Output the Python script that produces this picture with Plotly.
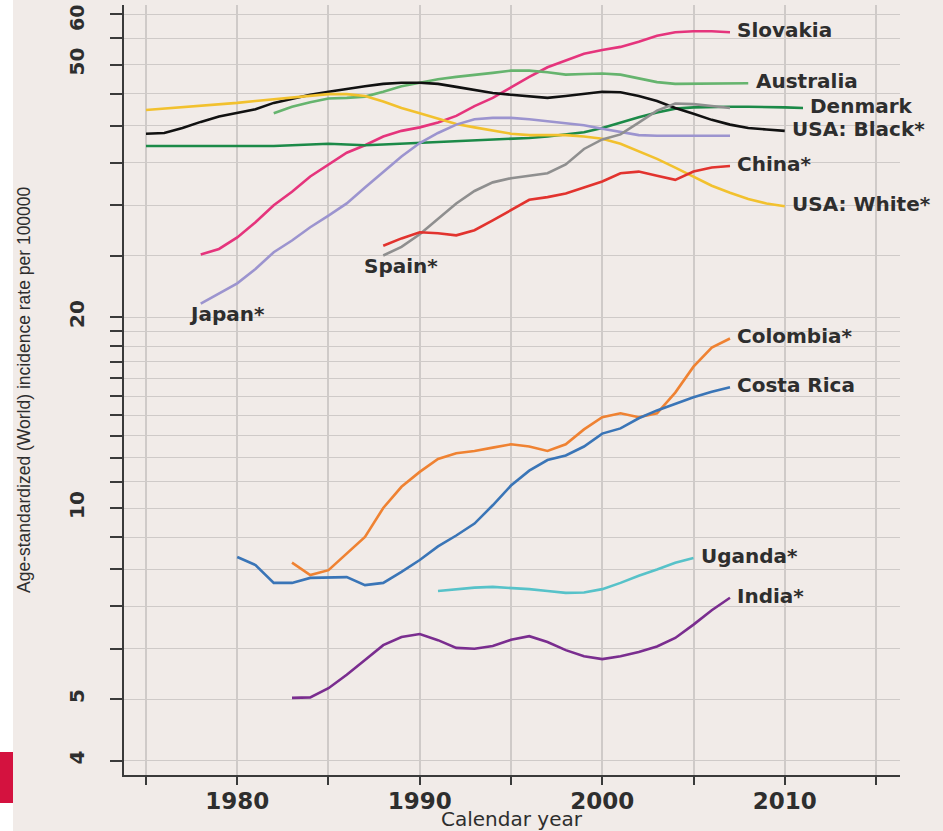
import math
import plotly.graph_objects as go

# ---------------- data ----------------
slovakia_years = list(range(1978, 2008))
slovakia = [25.1, 25.6, 26.7, 28.2, 30.0, 31.5, 33.3, 34.8, 36.3, 37.3, 38.5, 39.3, 39.8,
            40.5, 41.5, 43.0, 44.3, 46.0, 47.8, 49.5, 50.8, 52.0, 52.7, 53.3, 54.3, 55.5,
            56.2, 56.4, 56.4, 56.2]

australia_years = list(range(1982, 2009))
australia = [41.9, 42.9, 43.6, 44.2, 44.3, 44.5, 45.3, 46.2, 46.8, 47.4, 47.8, 48.1, 48.5,
             48.9, 48.9, 48.6, 48.2, 48.3, 48.4, 48.2, 47.6, 46.9, 46.6, 46.6, 46.6, 46.6, 46.7]

denmark_years = list(range(1975, 2012))
denmark = [37.2, 37.2, 37.1, 37.1, 37.1, 37.1, 37.1, 37.2, 37.3, 37.4, 37.5, 37.4, 37.3,
           37.4, 37.5, 37.6, 37.7, 37.8, 37.9, 38.1, 38.2, 38.3, 38.5, 38.8, 39.1, 39.7,
           40.5, 41.3, 42.0, 42.6, 42.8, 42.9, 42.9, 42.9, 42.9, 42.8, 42.7]

usa_black_years = list(range(1975, 2011))
usa_black = [38.9, 39.0, 39.7, 40.6, 41.4, 42.0, 42.5, 43.5, 44.2, 44.8, 45.3, 45.8, 46.2,
             46.6, 46.8, 46.8, 46.6, 46.1, 45.6, 45.1, 44.8, 44.5, 44.3, 44.6, 45.0, 45.3,
             45.2, 44.6, 43.8, 42.7, 41.8, 40.9, 40.2, 39.7, 39.5, 39.3]

usa_white_years = list(range(1975, 2011))
usa_white = [42.4, 42.6, 42.8, 43.0, 43.3, 43.5, 43.8, 44.1, 44.4, 44.7, 44.9, 44.9, 44.6,
             43.7, 42.7, 41.9, 41.1, 40.3, 39.8, 39.3, 38.9, 38.7, 38.7, 38.7, 38.5, 38.2,
             37.5, 36.5, 35.5, 34.4, 33.3, 32.2, 31.4, 30.7, 30.2, 29.9]

japan_years = list(range(1978, 2008))
japan = [21.0, 21.8, 22.6, 23.8, 25.3, 26.4, 27.7, 28.9, 30.2, 32.0, 33.8, 35.8, 37.6, 39.0,
         40.2, 41.0, 41.2, 41.2, 41.0, 40.7, 40.5, 40.1, 39.6, 39.1, 38.7, 38.6, 38.6, 38.6,
         38.6, 38.6]

spain_years = list(range(1988, 2008))
spain = [25.0, 25.8, 27.0, 28.6, 30.2, 31.6, 32.6, 33.1, 33.4, 33.7, 34.8, 36.8, 38.1, 38.8,
         40.5, 42.3, 43.4, 43.3, 43.0, 42.7]

china_years = list(range(1988, 2008))
china = [25.9, 26.6, 27.2, 27.1, 26.9, 27.4, 28.4, 29.5, 30.6, 30.9, 31.3, 32.0, 32.7, 33.7,
         33.9, 33.4, 32.9, 33.9, 34.4, 34.6]

colombia_years = list(range(1983, 2008))
colombia = [8.2, 7.84, 7.98, 8.49, 9.0, 10.0, 10.8, 11.4, 11.95, 12.2, 12.3, 12.45, 12.6,
            12.5, 12.3, 12.6, 13.3, 13.9, 14.1, 13.9, 14.1, 15.2, 16.7, 17.9, 18.5]

costa_rica_years = list(range(1980, 2008))
costa_rica = [8.37, 8.13, 7.62, 7.62, 7.76, 7.78, 7.78, 7.56, 7.62, 7.93, 8.28, 8.7, 9.05,
              9.45, 10.1, 10.85, 11.45, 11.9, 12.1, 12.5, 13.1, 13.35, 13.85, 14.25, 14.6,
              14.95, 15.25, 15.5]

uganda_years = list(range(1991, 2006))
uganda = [7.40, 7.45, 7.49, 7.51, 7.49, 7.45, 7.40, 7.35, 7.36, 7.45, 7.62, 7.82, 8.0, 8.2, 8.34]

india_years = list(range(1983, 2008))
india = [5.02, 5.03, 5.2, 5.46, 5.76, 6.08, 6.26, 6.33, 6.19, 6.02, 6.0, 6.06, 6.2, 6.28,
         6.15, 5.97, 5.84, 5.78, 5.84, 5.93, 6.05, 6.24, 6.55, 6.9, 7.22]

x_tick_values = [1975, 1980, 1985, 1990, 1995, 2000, 2005, 2010, 2015]
x_tick_labels = ["", "1980", "", "1990", "", "2000", "", "2010", ""]
y_tick_values = [4, 5, 6, 7, 8, 9, 10, 11, 12, 13, 14, 15, 16, 17, 18, 19, 20,
                 25, 30, 35, 40, 45, 50, 55, 60]
y_tick_labels = ["4", "5", "", "", "", "", "10", "", "", "", "", "", "", "", "", "", "20",
                 "", "", "", "", "", "50", "", ""]
y_top_label = "60"   # drawn as annotation so it is not clipped at the page edge

# label, years, values, colour, label position ("end" or "start")
series = [
    ("Slovakia", slovakia_years, slovakia, "#e5347c", "end"),
    ("Australia", australia_years, australia, "#66b46e", "end"),
    ("Denmark", denmark_years, denmark, "#1c8a48", "end"),
    ("USA: Black*", usa_black_years, usa_black, "#111111", "end"),
    ("USA: White*", usa_white_years, usa_white, "#f2c12e", "end"),
    ("Japan*", japan_years, japan, "#9c94cf", "start"),
    ("Spain*", spain_years, spain, "#8f8f8f", "start"),
    ("China*", china_years, china, "#e2332e", "end"),
    ("Colombia*", colombia_years, colombia, "#ef8232", "end"),
    ("Costa Rica", costa_rica_years, costa_rica, "#3a75b7", "end"),
    ("Uganda*", uganda_years, uganda, "#57c2c9", "end"),
    ("India*", india_years, india, "#7a2d8f", "end"),
]

BG = "#f1ebe8"
TXT = "#2e2e2e"
GRID = "#cfcac8"

fig = go.Figure()
annotations = []
for name, yrs, vals, col, pos in series:
    fig.add_trace(go.Scatter(x=yrs, y=vals, mode="lines", name=name,
                             line=dict(color=col, width=2.6), showlegend=False))
    if pos == "end":
        annotations.append(dict(x=yrs[-1] + 0.3, y=math.log10(vals[-1]), xref="x", yref="y",
                                text=name, showarrow=False, xanchor="left", yanchor="middle",
                                yshift=2,
                                font=dict(family="DejaVu Sans", size=20, color=TXT, weight="bold")))
    else:
        shift = -21 if name == "Spain*" else -14
        annotations.append(dict(x=yrs[0], y=math.log10(vals[0]), xref="x", yref="y",
                                text=name, showarrow=False, xanchor="left", yanchor="middle",
                                xshift=shift, yshift=-10,
                                font=dict(family="DejaVu Sans", size=20, color=TXT, weight="bold")))

L, R, T, B = 124, 43, 5, 56
W, H = 943, 831
pw, ph = W - L - R, H - T - B

def px_x(p):
    return (p - L) / pw

def px_y(p):
    return (H - B - p) / ph

# axis titles
annotations.append(dict(x=0.5, y=px_y(819), xref="paper", yref="paper", text="Calendar year",
                        showarrow=False, xanchor="center", yanchor="middle",
                        font=dict(family="DejaVu Sans", size=20, color=TXT)))
annotations.append(dict(x=px_x(24), y=px_y(390), xref="paper", yref="paper",
                        text="Age-standardized (World) incidence rate per 100000",
                        showarrow=False, xanchor="center", yanchor="middle", textangle=-90,
                        font=dict(family="Liberation Sans", size=17.5, color=TXT)))
annotations.append(dict(x=px_x(77), y=px_y(18), xref="paper", yref="paper", text=y_top_label,
                        showarrow=False, xanchor="center", yanchor="middle", textangle=-90,
                        borderpad=0,
                        font=dict(family="DejaVu Sans", size=19, color=TXT, weight="bold")))

shapes = [
    dict(type="rect", xref="paper", yref="paper", x0=px_x(0), x1=px_x(13), y0=px_y(0), y1=px_y(H),
         fillcolor="#ffffff", line=dict(width=0), layer="below"),
    dict(type="rect", xref="paper", yref="paper", x0=px_x(0), x1=px_x(13), y0=px_y(803), y1=px_y(752),
         fillcolor="#d4123f", line=dict(width=0), layer="below"),
]

fig.update_layout(
    width=W, height=H,
    margin=dict(l=L, r=R, t=T, b=B, pad=0, autoexpand=False),
    paper_bgcolor=BG, plot_bgcolor=BG,
    annotations=annotations, shapes=shapes,
    showlegend=False,
)
fig.update_xaxes(
    range=[1973.795, 2016.315], tickmode="array", tickvals=x_tick_values, ticktext=x_tick_labels,
    showgrid=True, gridcolor=GRID, gridwidth=1.6, zeroline=False, automargin=False,
    showline=True, linecolor="#3a3a3a", linewidth=2,
    ticks="outside", ticklen=8, tickwidth=2, tickcolor="#3a3a3a",
    ticklabelstandoff=-4,
    tickfont=dict(family="DejaVu Sans", size=23, color=TXT, weight="bold"),
)
fig.update_yaxes(
    type="log", range=[0.5792, 1.79275], tickmode="array", tickvals=y_tick_values,
    ticktext=y_tick_labels, tickangle=-90, ticklabeloverflow="allow", automargin=False,
    showgrid=True, gridcolor=GRID, gridwidth=1.2, zeroline=False,
    showline=True, linecolor="#3a3a3a", linewidth=2,
    ticks="outside", ticklen=12, tickwidth=2, tickcolor="#3a3a3a",
    ticklabelstandoff=18,
    tickfont=dict(family="DejaVu Sans", size=20, color=TXT, weight="bold"),
)

fig.write_html("out.html", config={"displayModeBar": False},
               post_script="document.body.style.margin='0';document.body.style.background='#f1ebe8';")
